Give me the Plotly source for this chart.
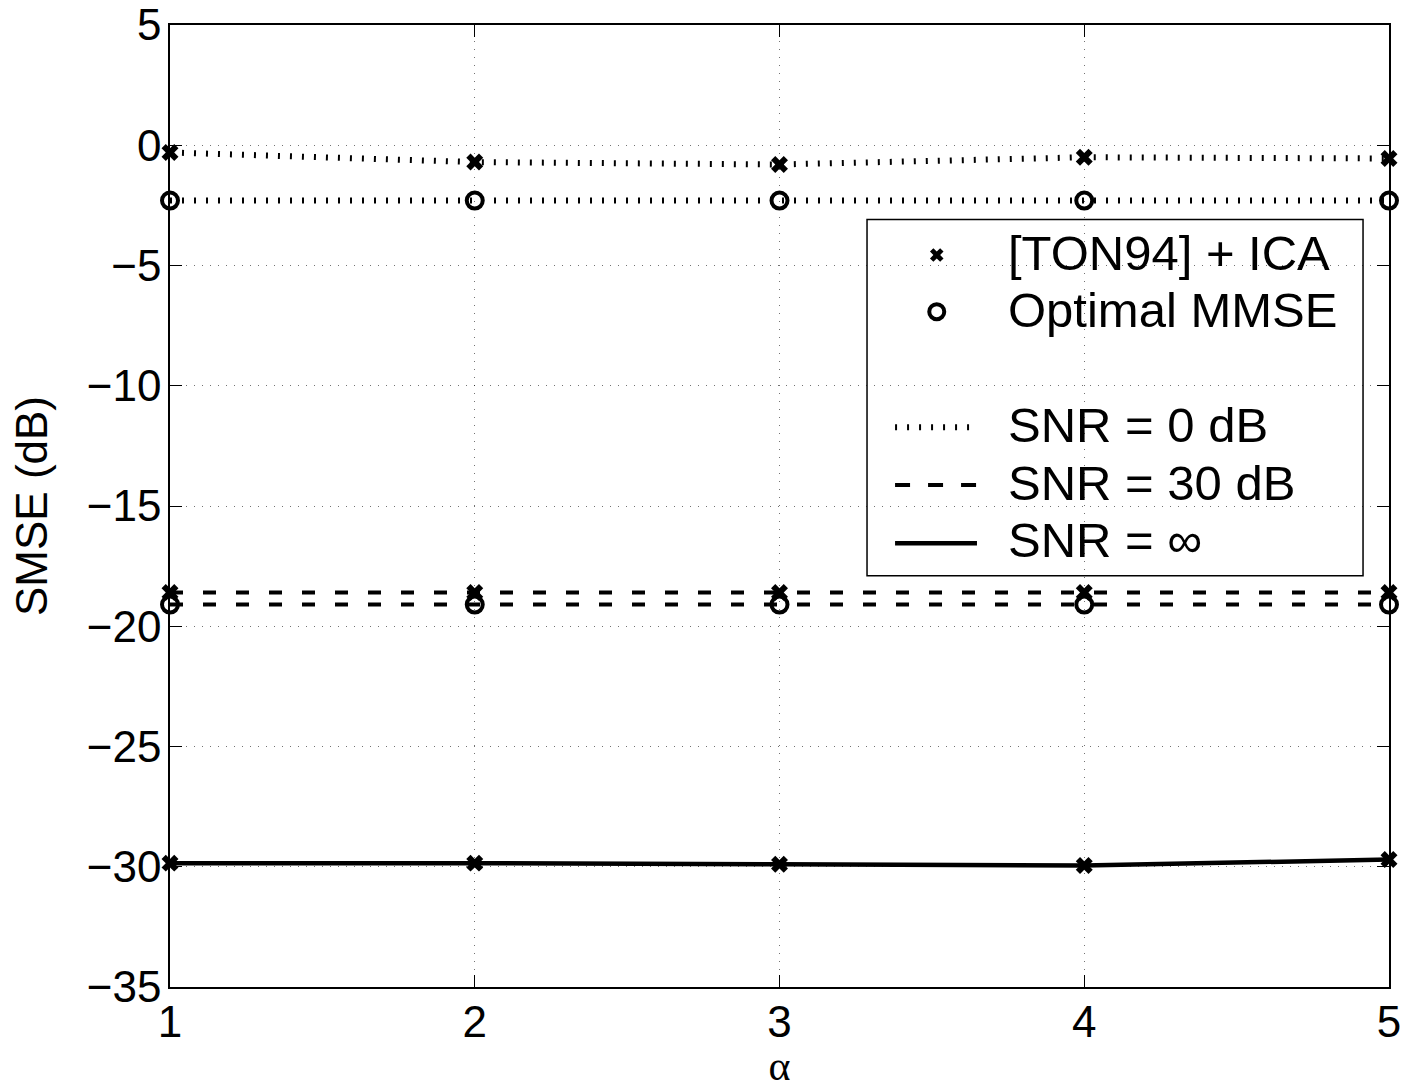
import plotly.graph_objects as go

# ---- data ----
alpha = [1, 2, 3, 4, 5]
ton94_0db = [-0.3, -0.7, -0.8, -0.5, -0.55]
mmse_0db = [-2.3, -2.3, -2.3, -2.3, -2.3]
ton94_30db = [-18.6, -18.6, -18.6, -18.6, -18.6]
mmse_30db = [-19.1, -19.1, -19.1, -19.1, -19.1]
ton94_inf = [-29.85, -29.85, -29.9, -29.95, -29.7]

x_ticks = [1, 2, 3, 4, 5]
y_ticks = [5, 0, -5, -10, -15, -20, -25, -30, -35]

legend_marker_labels = ["[TON94] + ICA", "Optimal MMSE"]
legend_line_labels = ["SNR = 0 dB", "SNR = 30 dB", "SNR = \u221e"]

FONT = "Liberation Sans, Arial, Helvetica, sans-serif"
FS = 44
LFS = 49
DOT = "2px,10px"
DASH = "13px,20px"

fig = go.Figure()

x_marker = dict(symbol="x", size=15, color="black", line=dict(width=0))
o_marker = dict(symbol="circle-open", size=16, color="black", line=dict(width=4, color="black"))

# SNR = 0 dB
fig.add_trace(go.Scatter(x=alpha, y=ton94_0db, mode="lines+markers",
                         line=dict(color="black", width=6, dash=DOT),
                         marker=x_marker, cliponaxis=False, showlegend=False))
fig.add_trace(go.Scatter(x=alpha, y=mmse_0db, mode="lines+markers",
                         line=dict(color="black", width=6, dash=DOT),
                         marker=o_marker, cliponaxis=False, showlegend=False))
# SNR = 30 dB
fig.add_trace(go.Scatter(x=alpha, y=ton94_30db, mode="lines+markers",
                         line=dict(color="black", width=4, dash=DASH),
                         marker=x_marker, cliponaxis=False, showlegend=False))
fig.add_trace(go.Scatter(x=alpha, y=mmse_30db, mode="lines+markers",
                         line=dict(color="black", width=4, dash=DASH),
                         marker=o_marker, cliponaxis=False, showlegend=False))
# SNR = inf
fig.add_trace(go.Scatter(x=alpha, y=ton94_inf, mode="lines+markers",
                         line=dict(color="black", width=4.5),
                         marker=x_marker, cliponaxis=False, showlegend=False))

# ---- manual legend (paper-fraction overlay axis) ----
lx0, lx1, ly0, ly1 = 0.5718, 0.9787, 0.4276, 0.7977
fig.add_shape(type="rect", xref="paper", yref="paper", x0=lx0, x1=lx1, y0=ly0, y1=ly1,
              line=dict(color="black", width=1.5), fillcolor="white", layer="between")
sx0, sx1 = 0.5948, 0.662
marker_ys = [0.7609, 0.702]
line_ys = [0.5818, 0.5218, 0.4612]
text_x = 0.6858
text_ys_m = [0.763, 0.7037]
text_ys_l = [0.5842, 0.5239, 0.4647]

fig.add_trace(go.Scatter(x=[0.629], y=[marker_ys[0]], xaxis="x2", yaxis="y2", mode="markers",
                         marker=dict(symbol="x", size=12, color="black", line=dict(width=0)),
                         showlegend=False, hoverinfo="skip", cliponaxis=False))
fig.add_trace(go.Scatter(x=[0.629], y=[marker_ys[1]], xaxis="x2", yaxis="y2", mode="markers",
                         marker=dict(symbol="circle-open", size=15, color="black",
                                     line=dict(width=4, color="black")),
                         showlegend=False, hoverinfo="skip", cliponaxis=False))
styles = [dict(width=6, dash=DOT), dict(width=4, dash="15px,18px"), dict(width=4.5, dash="solid")]
for yy, st in zip(line_ys, styles):
    fig.add_shape(type="line", xref="paper", yref="paper", x0=sx0, x1=sx1, y0=yy, y1=yy,
                  line=dict(color="black", **st), layer="above")
for txt, yy in zip(legend_marker_labels + legend_line_labels, text_ys_m + text_ys_l):
    fig.add_annotation(text=txt, xref="paper", yref="paper", x=text_x, y=yy,
                       xanchor="left", yanchor="middle", showarrow=False,
                       font=dict(family=FONT, size=LFS, color="black"))

axis_common = dict(showline=True, linecolor="black", linewidth=1.5, mirror="ticks",
                   ticks="inside", ticklen=12, tickwidth=1, tickcolor="black",
                   showgrid=True, gridcolor="rgba(0,0,0,0.55)", gridwidth=1, griddash="1px,7px",
                   zeroline=False, automargin=False,
                   tickfont=dict(family=FONT, size=FS, color="black"))

fig.update_layout(
    width=1402, height=1089,
    margin=dict(l=170, r=13, t=25, b=102),
    paper_bgcolor="white", plot_bgcolor="white",
    font=dict(family=FONT, size=FS, color="black"),
    showlegend=False,
    xaxis=dict(range=[1, 5], tickvals=x_ticks, ticktext=[str(v) for v in x_ticks],
               title=dict(text="\u03b1", font=dict(family="Liberation Serif, Times New Roman, serif", size=42),
                          standoff=21),
               ticklabelstandoff=-5, **axis_common),
    yaxis=dict(range=[-35, 5], tickvals=y_ticks,
               title=dict(text="SMSE (dB)", font=dict(family=FONT, size=FS), standoff=25),
               ticklabelstandoff=-2, **axis_common),
    xaxis2=dict(overlaying="x", range=[0, 1], visible=False, fixedrange=True),
    yaxis2=dict(overlaying="y", range=[0, 1], visible=False, fixedrange=True),
)

fig.write_html("out.html", config={"displayModeBar": False},
               post_script="document.body.style.margin='0';document.body.style.overflow='hidden';")
